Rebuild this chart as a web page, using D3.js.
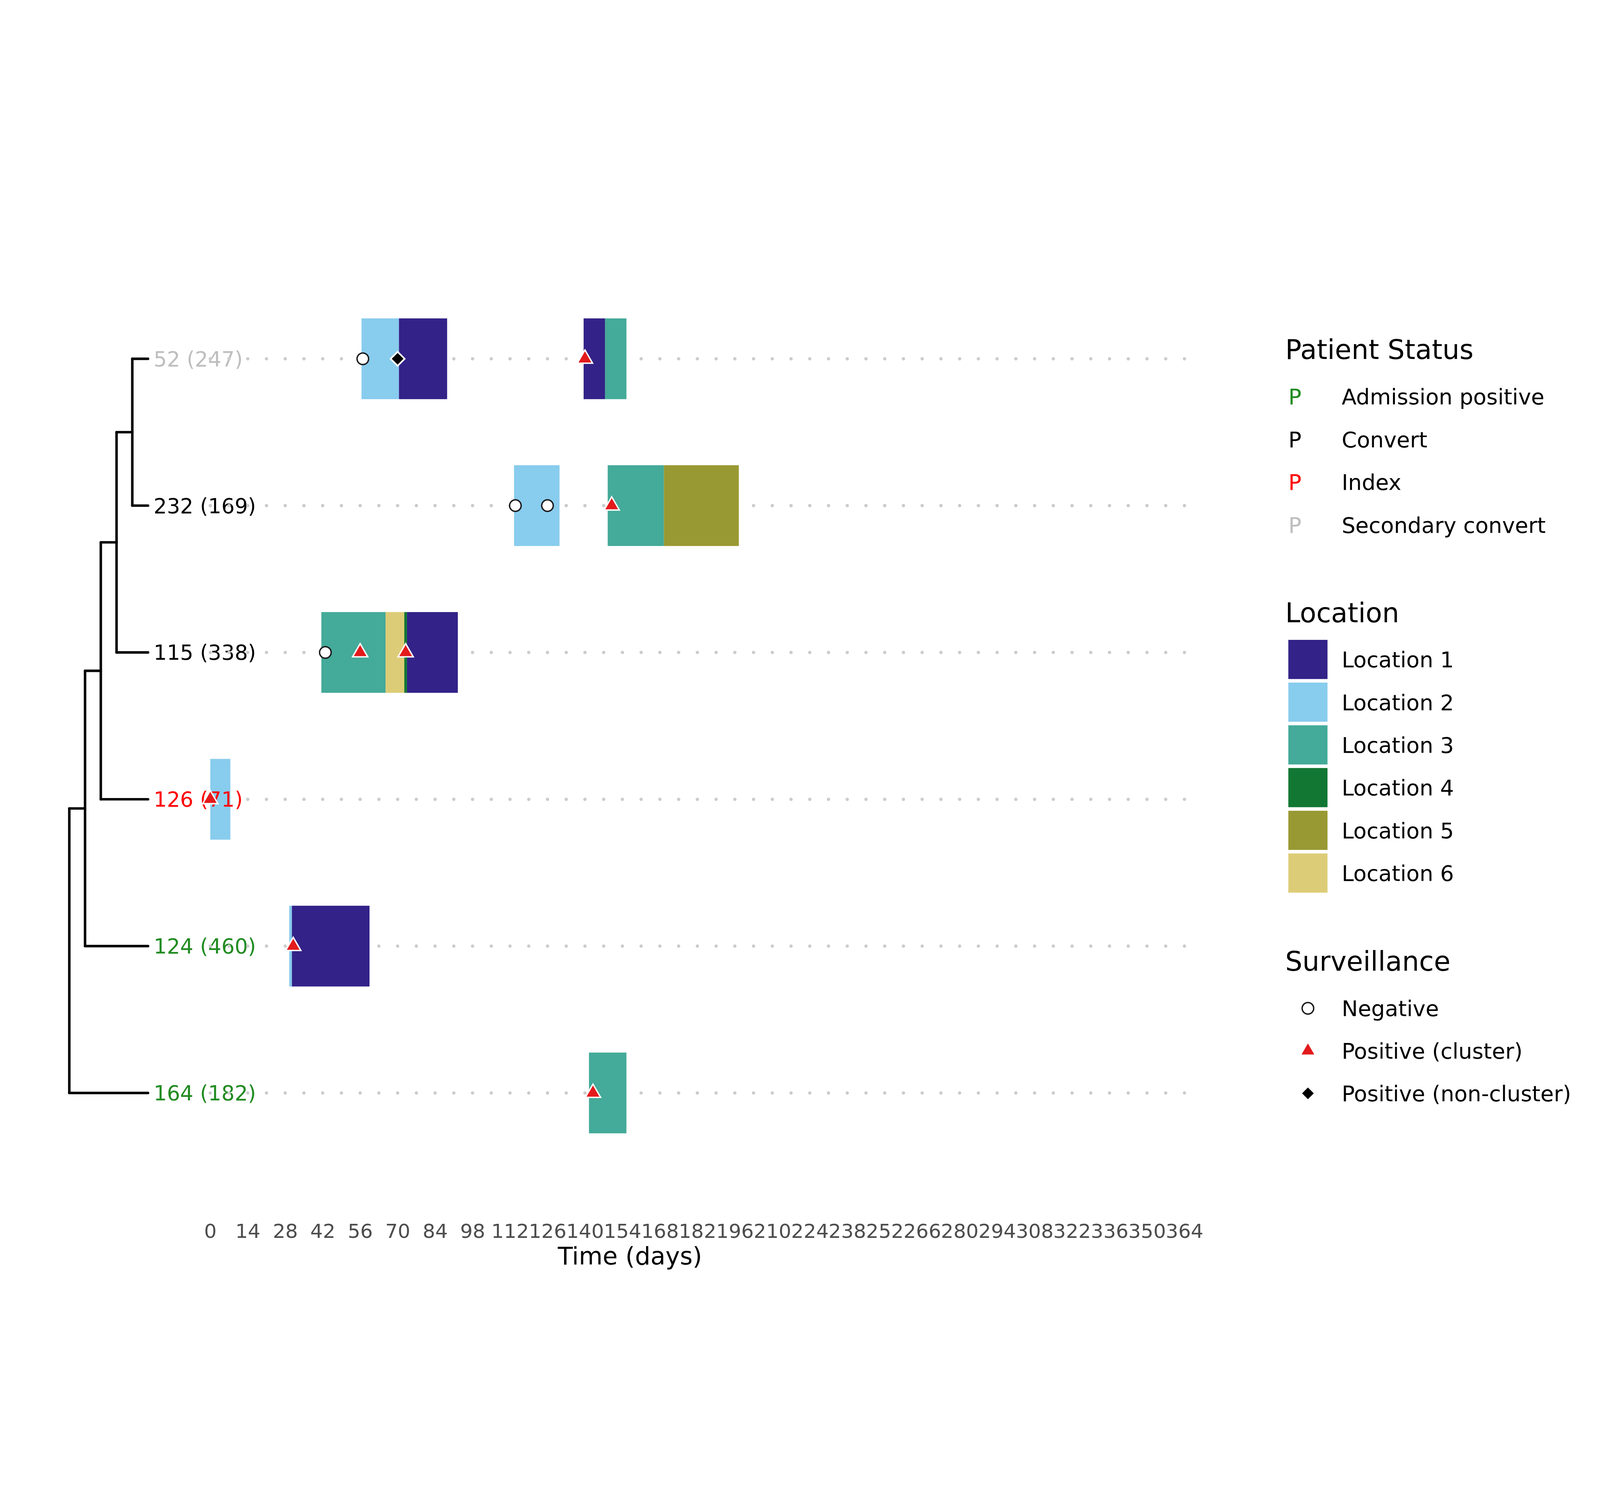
<!DOCTYPE html>
<html><head><meta charset="utf-8">
<script src="https://cdn.jsdelivr.net/npm/d3@7"></script>
<style>
html,body{margin:0;padding:0;background:#fff;width:100%;height:100%;overflow:hidden;}
svg{display:block;width:100vw;height:100vh;}
text{font-family:"DejaVu Sans",sans-serif;}
</style>
</head><body>
<svg id="chart" viewBox="0 0 5760 3840" preserveAspectRatio="xMidYMid meet"></svg>
<script>
// ---------------- data ----------------
const tipIds = ["52","232","115","126","124","164"];
const tipLabels = ["52 (247)","232 (169)","115 (338)","126 (71)","124 (460)","164 (182)"];
const tipStatus = ["Secondary convert","Convert","Convert","Index","Admission positive","Admission positive"];
const treeTopology = [[[[["52","232"],"115"],"126"],"124"],"164"];

const statusNames = ["Admission positive","Convert","Index","Secondary convert"];
const statusColors = ["#228B22","#000000","#FF0000","#BEBEBE"];

const locationNames = ["Location 1","Location 2","Location 3","Location 4","Location 5","Location 6"];
const locationColors = ["#332288","#88CCEE","#44AA99","#117733","#999933","#DDCC77"];

// stays: [patient, location, from (day), to (day)]
const stays = [
  ["52","Location 2",56.5,70.5],
  ["52","Location 1",70.5,88.5],
  ["52","Location 1",139.5,147.5],
  ["52","Location 3",147.5,155.5],
  ["232","Location 2",113.5,130.5],
  ["232","Location 3",148.5,169.5],
  ["232","Location 5",169.5,197.5],
  ["115","Location 3",41.5,65.5],
  ["115","Location 6",65.5,72.5],
  ["115","Location 4",72.5,73.5],
  ["115","Location 1",73.5,92.5],
  ["126","Location 2",0,7.5],
  ["124","Location 2",29.5,30.5],
  ["124","Location 1",30.5,59.5],
  ["164","Location 3",141.5,155.5]
];

const surveillanceNames = ["Negative","Positive (cluster)","Positive (non-cluster)"];
// tests: [patient, result, day]
const tests = [
  ["52","Negative",57],["52","Positive (non-cluster)",70],["52","Positive (cluster)",140],
  ["232","Negative",114],["232","Negative",126],["232","Positive (cluster)",150],
  ["115","Negative",43],["115","Positive (cluster)",56],["115","Positive (cluster)",73],
  ["126","Positive (cluster)",0],
  ["124","Positive (cluster)",31],
  ["164","Positive (cluster)",143]
];

const dayTicks = d3.range(0, 365, 14);
const dotDays = d3.range(0, 365, 7);

// ---------------- layout ----------------
const svg = d3.select("#chart");
svg.append("rect").attr("width",5760).attr("height",3840).attr("fill","#fff");

const x = d3.scaleLinear().domain([0,364]).range([757,4264]);
const y = d3.scalePoint().domain(tipIds).range([511.6,3154.6]);
const treeX = d3.scaleLinear().domain([0,5]).range([249.5,533]);
const barH = y.step()*0.55;
const locColor = d3.scaleOrdinal().domain(locationNames).range(locationColors);
const statColor = d3.scaleOrdinal().domain(statusNames).range(statusColors);

function markerPath(type){
  if(type==="Negative") return d3.symbol(d3.symbolCircle, Math.PI*20.8*20.8)();
  if(type==="Positive (cluster)") return d3.symbol(d3.symbolTriangle, 1300)();
  return d3.symbol(d3.symbolSquare, 1280)();
}
function markerStyle(sel){
  sel.attr("d", d=>markerPath(d))
    .attr("fill", d=> d==="Negative" ? "#ffffff" : d==="Positive (cluster)" ? "#E31A1C" : "#000000")
    .attr("stroke", d=> d==="Negative" ? "#1a1a1a" : "#ffffff")
    .attr("stroke-width", d=> d==="Positive (non-cluster)" ? 6 : 5)
    .attr("stroke-linejoin","miter");
}

// ---------------- tree ----------------
const root = d3.hierarchy(treeTopology, d => Array.isArray(d) ? d : null);
d3.cluster().size([1,5]).separation(()=>1)(root);
const leaves = root.leaves();
const treeY = d3.scaleLinear().domain([leaves[0].x, leaves[leaves.length-1].x]).range(y.range());
const gTree = svg.append("g");
root.descendants().forEach(n=>{
  if(n.parent){
    gTree.append("line")
      .attr("x1",treeX(n.parent.y)).attr("x2",treeX(n.y))
      .attr("y1",treeY(n.x)).attr("y2",treeY(n.x));
  }
  if(n.children){
    const c = n.children;
    gTree.append("line")
      .attr("x1",treeX(n.y)).attr("x2",treeX(n.y))
      .attr("y1",treeY(c[0].x)).attr("y2",treeY(c[c.length-1].x));
  }
});
gTree.selectAll("line").attr("stroke","#000").attr("stroke-width",9).attr("stroke-linecap","round");

// ---------------- stays (bars) ----------------
svg.append("g").selectAll("rect").data(stays).join("rect")
  .attr("x", d=>x(d[2]))
  .attr("width", d=>x(d[3])-x(d[2]))
  .attr("y", d=>y(d[0])-barH/2)
  .attr("height", barH)
  .attr("fill", d=>locColor(d[1]));

// ---------------- tip labels ----------------
svg.append("g").selectAll("text").data(tipIds).join("text")
  .attr("x", treeX(5)+20)
  .attr("y", d=>y(d))
  .attr("dy","0.36em")
  .attr("font-size",75)
  .attr("fill",(d,i)=>statColor(tipStatus[i]))
  .text((d,i)=>tipLabels[i]);

// ---------------- dotted timeline (days outside stays) ----------------
const dots = [];
tipIds.forEach(id=>{
  dotDays.forEach(dd=>{
    const inside = stays.some(s=>s[0]===id && dd>=s[2] && dd<=s[3]);
    if(!inside) dots.push([id,dd]);
  });
});
svg.append("g").selectAll("circle").data(dots).join("circle")
  .attr("cx", d=>x(d[1])).attr("cy", d=>y(d[0])).attr("r",6).attr("fill","#cccccc");

// ---------------- tests ----------------
svg.append("g").selectAll("path").data(tests).join("path")
  .attr("transform", d=>`translate(${x(d[2])},${y(d[0])})` + (d[1]==="Positive (non-cluster)" ? " rotate(45)" : ""))
  .each(function(d){ markerStyle(d3.select(this).datum(d[1])); });

// ---------------- x axis ----------------
const axis = d3.axisBottom(x).tickValues(dayTicks).tickSize(0).tickPadding(0);
const gAxis = svg.append("g").attr("transform","translate(0,3626.6)").call(axis);
gAxis.select(".domain").remove();
gAxis.selectAll("text").attr("font-size",71).attr("fill","#4d4d4d").attr("font-family","DejaVu Sans");
svg.append("text").attr("x",2268).attr("y",3772).attr("text-anchor","middle")
  .attr("font-size",88).attr("fill","#000").text("Time (days)");

// ---------------- legends ----------------
const lg = svg.append("g");
const titleX = 4627, keyX = 4638, keyW = 141, labelX = 4830, legFont = 78;
// Patient status
lg.append("text").attr("x",titleX).attr("y",513).attr("font-size",97).text("Patient Status");
const stY = [648,802,956,1110];
statusNames.forEach((s,i)=>{
  lg.append("text").attr("x",keyX).attr("y",stY[i]).attr("dy","0.36em").attr("font-size",legFont)
    .attr("fill",statusColors[i]).text("P");
  lg.append("text").attr("x",labelX).attr("y",stY[i]).attr("dy","0.36em").attr("font-size",legFont).text(s);
});
// Location
lg.append("text").attr("x",titleX).attr("y",1460).attr("font-size",97).text("Location");
locationNames.forEach((s,i)=>{
  const cy = 1594 + i*153.8;
  lg.append("rect").attr("x",keyX).attr("y",cy-70.5).attr("width",keyW).attr("height",141).attr("fill",locationColors[i]);
  lg.append("text").attr("x",labelX).attr("y",cy).attr("dy","0.36em").attr("font-size",legFont).text(s);
});
// Surveillance
lg.append("text").attr("x",titleX).attr("y",2714).attr("font-size",97).text("Surveillance");
surveillanceNames.forEach((s,i)=>{
  const cy = 2850 + i*153;
  const p = lg.append("path").datum(s)
    .attr("transform",`translate(${keyX+keyW/2},${cy})` + (s==="Positive (non-cluster)" ? " rotate(45)" : ""));
  markerStyle(p);
  lg.append("text").attr("x",labelX).attr("y",cy).attr("dy","0.36em").attr("font-size",legFont).text(s);
});
</script>
</body></html>
